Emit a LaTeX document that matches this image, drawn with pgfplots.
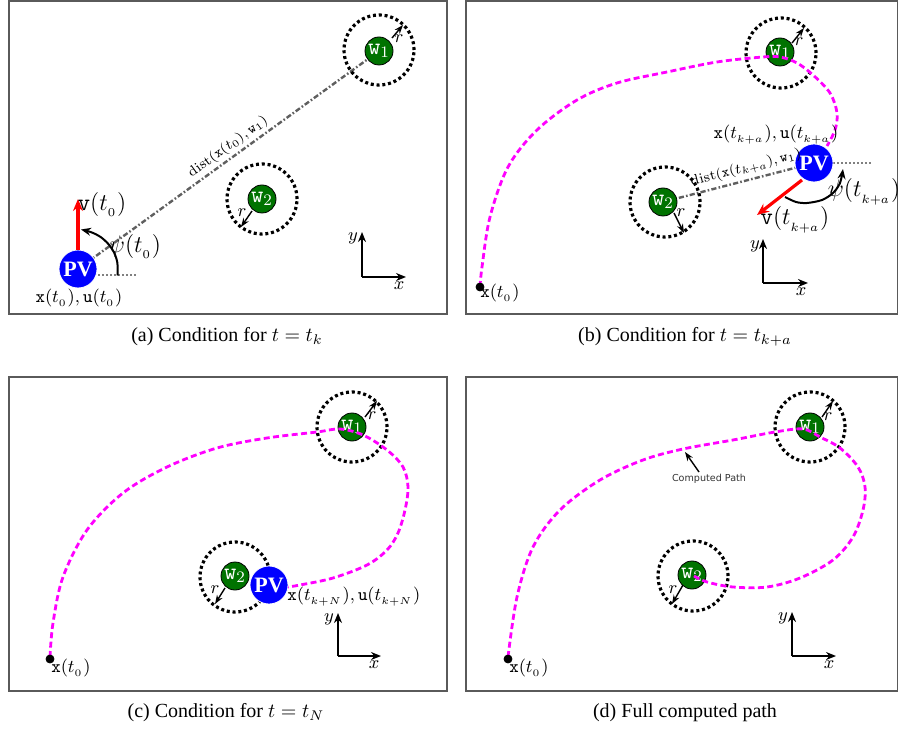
\documentclass[border=0pt]{standalone}
\usepackage[no-math]{fontspec}
\setmainfont{Liberation Serif}
\newfontfamily\cpfont{DejaVu Sans}
\usepackage{pgfplots}
\pgfplotsset{compat=1.18}
\usetikzlibrary{arrows.meta}
\definecolor{pvgreen}{RGB}{0,115,0}
\definecolor{pvblue}{RGB}{0,0,255}
\definecolor{pvmag}{RGB}{255,0,255}
\definecolor{framegray}{RGB}{90,90,90}
\definecolor{linegray}{RGB}{95,95,95}
\pgfplotsset{
 panel/.style={scale only axis, anchor=south west, xtick=\empty, ytick=\empty, clip=false, clip marker paths=true,
   axis line style={draw=framegray, line width=0.7pt}},
 dcirc/.style={only marks, mark=o, mark size=17.5pt, mark options={draw=black, line width=1.6pt, dash pattern=on 1.5pt off 1.4pt}},
 gcirc/.style={only marks, mark=*, mark size=7pt, mark options={draw=none, fill=pvgreen}},
 pvcirc/.style={only marks, mark=*, mark size=9.5pt, mark options={draw=white, line width=0.4pt, fill=pvblue}},
 mpath/.style={mark=none, smooth, tension=0.55, pvmag, line width=1.4pt, dash pattern=on 3pt off 1.7pt},
 ddot/.style={mark=none, linegray, line width=1.2pt, dash pattern=on 2.6pt off 1.1pt on 0.8pt off 1.1pt},
 hdot/.style={mark=none, gray, line width=1pt, dash pattern=on 1pt off 1pt},
 rarr/.style={mark=none, black, line width=0.7pt, -{Stealth[length=4.5pt,width=3.2pt]}},
 carr/.style={mark=none, black, line width=1.1pt, -{Stealth[length=5pt,width=4pt]}},
 aarr/.style={mark=none, black, line width=1pt, smooth, -{Stealth[length=5pt,width=4pt]}},
 varr/.style={mark=none, red, line width=1.6pt, -{Stealth[length=6pt,width=5pt]}},
 startdot/.style={only marks, mark=*, mark size=2pt, mark options={draw=black, fill=black}},
}
\tikzset{
 wl/.style={font=\fontsize{11.5}{12}\selectfont, text=white, inner sep=0pt},
 pvl/.style={font=\bfseries\fontsize{11}{12}\selectfont, text=white, inner sep=0pt},
 lab/.style={font=\fontsize{9.5}{11}\selectfont, inner sep=0pt},
 blab/.style={font=\fontsize{11.5}{13}\selectfont, inner sep=0pt},
 rl/.style={font=\fontsize{9}{10}\selectfont, inner sep=0pt},
 dl/.style={font=\fontsize{7}{8}\selectfont, inner sep=0pt},
 captxt/.style={font=\fontsize{10}{12}\selectfont, inner sep=0pt},
}
\begin{document}
\begin{tikzpicture}
\path[use as bounding box] (0,0) rectangle (449pt,-365.5pt);
% ---------------- (a)
\begin{axis}[panel, at={(4.5pt,-157pt)}, width=219pt, height=156.5pt, xmin=9, xmax=447, ymin=-314, ymax=-1]
\addplot[ddot] coordinates {(78,-269) (379,-51)};
\addplot[dcirc] coordinates {(379,-50) (262,-199)};
\addplot[gcirc] coordinates {(379,-51) (262,-199)};
\addplot[rarr] coordinates {(392,-38) (403,-25)};
\addplot[rarr] coordinates {(252,-211) (241,-227)};
\addplot[hdot] coordinates {(98,-275) (137,-275)};
\addplot[aarr] coordinates {(117.5,-275.5) (117.4,-263) (114.3,-253) (108.6,-244.3) (100.9,-237.2) (91.7,-232.4) (81,-229.5)};
\addplot[pvcirc] coordinates {(78,-269)};
\addplot[varr] coordinates {(78,-250) (78,-199)};
\addplot[carr] coordinates {(362,-277) (362,-232)};
\addplot[carr] coordinates {(362,-277) (406,-277)};
\node[wl] at (axis cs:379,-51) {$\mathtt{w}_1$};
\node[wl] at (axis cs:262,-199) {$\mathtt{w}_2$};
\node[pvl] at (axis cs:78,-269) {PV};
\node[rl] at (axis cs:399,-39) {$r$};
\node[rl] at (axis cs:242,-213) {$r$};
\node[blab] at (axis cs:102,-205) {$\mathtt{v}(t_{_0})$};
\node[blab] at (axis cs:135,-247) {$\psi(t_{_0})$};
\node[lab] at (axis cs:79,-298) {$\mathtt{x}(t_{_0}),\mathtt{u}(t_{_0})$};
\node[dl, rotate=36] at (axis cs:228,-147) {$\mathrm{dist}(\mathtt{x}(t_0),\mathtt{w}_1)$};
\node[lab] at (axis cs:353,-238) {$y$};
\node[lab] at (axis cs:399,-286) {$x$};
\node[captxt] at (axis cs:227,-337) {(a) Condition for $t=t_k$};
\end{axis}
% ---------------- (b)
\begin{axis}[panel, at={(233pt,-157pt)}, width=216pt, height=156.5pt, xmin=466, xmax=898, ymin=-314, ymax=-1]
\addplot[ddot] coordinates {(814,-163) (663,-202)};
\addplot[dcirc] coordinates {(781,-53) (665,-202)};
\addplot[gcirc] coordinates {(780,-52) (663,-202)};
\node[wl] at (axis cs:780,-52) {$\mathtt{w}_1$};
\node[wl] at (axis cs:663,-202) {$\mathtt{w}_2$};
\addplot[mpath] coordinates {(480,-287) (482,-267) (490,-217) (508,-167) (537,-130) (577,-100) (617,-83) (667,-72) (717,-62) (763,-57) (780,-57) (797,-63) (813,-75) (830,-93) (837,-113) (835,-130) (827,-146)};
\addplot[startdot] coordinates {(480,-287)};
\addplot[rarr] coordinates {(792,-43) (804,-28)};
\addplot[rarr] coordinates {(674,-213) (684,-233)};
\addplot[hdot] coordinates {(833,-163) (873,-163)};
\addplot[aarr] coordinates {(785,-197) (796,-202) (807,-203) (822,-200) (833,-193) (840,-183) (843,-169)};
\addplot[pvcirc] coordinates {(814,-163)};
\addplot[varr] coordinates {(802,-180) (757,-215)};
\addplot[carr] coordinates {(763,-283) (763,-239)};
\addplot[carr] coordinates {(763,-283) (808,-283)};
\node[pvl] at (axis cs:814,-163) {PV};
\node[rl] at (axis cs:799,-42) {$r$};
\node[rl] at (axis cs:681,-213) {$r$};
\node[lab] at (axis cs:776,-135) {$\mathtt{x}(t_{_{k+a}}),\mathtt{u}(t_{_{k+a}})$};
\node[blab] at (axis cs:795,-220) {$\mathtt{v}(t_{_{k+a}})$};
\node[blab] at (axis cs:864,-192) {$\psi(t_{_{k+a}})$};
\node[dl, rotate=14.5] at (axis cs:746,-168) {$\mathrm{dist}(\mathtt{x}(t_{k+a}),\mathtt{w}_1)$};
\node[lab] at (axis cs:500,-293) {$\mathtt{x}(t_{_0})$};
\node[lab] at (axis cs:755,-246) {$y$};
\node[lab] at (axis cs:801,-292) {$x$};
\node[captxt] at (axis cs:685,-337) {(b) Condition for $t=t_{k+a}$};
\end{axis}
% ---------------- (c)
\begin{axis}[panel, at={(4.5pt,-345.5pt)}, width=219pt, height=157pt, xmin=9, xmax=447, ymin=-691, ymax=-377]
\addplot[dcirc] coordinates {(352,-427) (235,-577)};
\addplot[gcirc] coordinates {(352,-427) (235,-576)};
\node[wl] at (axis cs:352,-427) {$\mathtt{w}_1$};
\node[wl] at (axis cs:235,-576) {$\mathtt{w}_2$};
\addplot[mpath] coordinates {(50,-657) (53,-623) (63,-577) (87,-530) (123,-493) (167,-467) (217,-448) (267,-438) (317,-432) (340,-429) (363,-435) (387,-450) (403,-467) (408,-487) (405,-510) (398,-533) (387,-550) (367,-565) (333,-578) (300,-585) (288,-587)};
\addplot[startdot] coordinates {(50,-659)};
\addplot[rarr] coordinates {(365,-417) (377,-401)};
\addplot[rarr] coordinates {(225,-588) (215,-604)};
\addplot[pvcirc] coordinates {(269,-585)};
\addplot[carr] coordinates {(338,-656) (338,-613)};
\addplot[carr] coordinates {(338,-656) (381,-656)};
\node[pvl] at (axis cs:269,-585) {PV};
\node[rl] at (axis cs:372,-416) {$r$};
\node[rl] at (axis cs:215,-590) {$r$};
\node[lab, anchor=west] at (axis cs:287,-597) {$\mathtt{x}(t_{_{k+N}}),\mathtt{u}(t_{_{k+N}})$};
\node[lab] at (axis cs:71,-668) {$\mathtt{x}(t_{_0})$};
\node[lab] at (axis cs:329,-619) {$y$};
\node[lab] at (axis cs:374,-665) {$x$};
\node[captxt] at (axis cs:226,-713) {(c) Condition for $t=t_N$};
\end{axis}
% ---------------- (d)
\begin{axis}[panel, at={(233pt,-345.5pt)}, width=216pt, height=157pt, xmin=466, xmax=898, ymin=-691, ymax=-377]
\addplot[dcirc] coordinates {(810,-427) (693,-576)};
\addplot[gcirc] coordinates {(810,-427) (692,-575)};
\node[wl] at (axis cs:810,-427) {$\mathtt{w}_1$};
\node[wl] at (axis cs:692,-575) {$\mathtt{w}_2$};
\addplot[mpath] coordinates {(508,-657) (517,-597) (533,-547) (560,-510) (600,-480) (643,-460) (683,-449) (733,-440) (775,-432) (803,-429) (820,-437) (840,-448) (858,-467) (865,-487) (863,-510) (853,-537) (833,-560) (800,-578) (767,-587) (733,-587) (707,-582) (694,-576)};
\addplot[startdot] coordinates {(508,-659)};
\addplot[rarr] coordinates {(822,-417) (833,-401)};
\addplot[rarr] coordinates {(683,-585) (672,-604)};
\addplot[rarr] coordinates {(699,-472) (685,-452)};
\addplot[carr] coordinates {(792,-656) (792,-612)};
\addplot[carr] coordinates {(792,-656) (836,-656)};
\node[rl] at (axis cs:828,-417) {$r$};
\node[rl] at (axis cs:673,-590) {$r$};
\node[font=\cpfont\fontsize{4.8}{6}\selectfont, text=black!80, inner sep=0pt] at (axis cs:709,-479) {Computed Path};
\node[lab] at (axis cs:529,-668) {$\mathtt{x}(t_{_0})$};
\node[lab] at (axis cs:783,-618) {$y$};
\node[lab] at (axis cs:829,-665) {$x$};
\node[captxt] at (axis cs:685,-713) {(d) Full computed path};
\end{axis}
\end{tikzpicture}
\end{document}
